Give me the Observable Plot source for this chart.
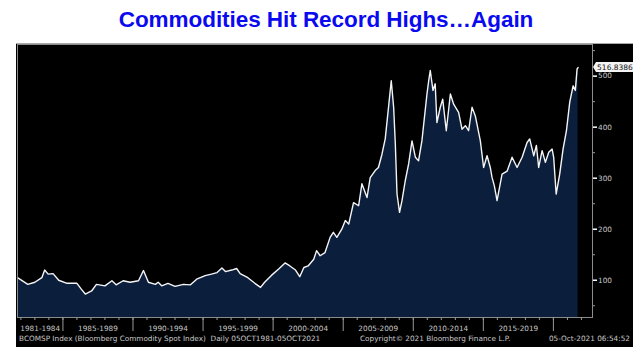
<!DOCTYPE html>
<html>
<head>
<meta charset="utf-8">
<script src="https://cdn.jsdelivr.net/npm/d3@7"></script>
<script src="https://cdn.jsdelivr.net/npm/@observablehq/plot@0.6"></script>
<style>
  html, body { margin: 0; padding: 0; background: #fff; }
  #wrap { position: relative; width: 640px; height: 357px; overflow: hidden; }
  #title { position: absolute; left: 12px; top: 8px; width: 628px; text-align: center;
    font: bold 22.5px "Liberation Sans", Arial, sans-serif; color: #0a0af0; line-height: 24px; letter-spacing: -0.05px; }
  #chart { position: absolute; left: 16px; top: 43px; width: 617px; height: 304px; background: #000; border-top: 1px solid #a8a8a8; box-sizing: border-box; }
  #chart svg { position: absolute; left: 0; top: -1px; }
  .foot { position: absolute; top: 290px; font: 7.3px "DejaVu Sans", sans-serif; color: #c8c8c8; white-space: pre; line-height: 9px; }
</style>
</head>
<body>
<div id="wrap">
  <div id="title">Commodities Hit Record Highs…Again</div>
  <div id="chart"></div>
</div>
<script>
// ---- data ----
const dates = [
  "1981-10-05","1982-07-01","1983-01-01","1983-07-01","1983-09-13","1983-12-13","1984-04-19","1984-09-13",
  "1985-04-19","1986-01-01","1986-04-19","1986-08-07","1987-01-19","1987-05-25","1988-01-01","1988-07-01",
  "1988-10-19","1989-04-19","1989-10-19","1990-05-25","1990-10-01","1991-02-07","1991-08-07","1991-10-19",
  "1992-01-19","1992-07-01","1993-01-01","1993-08-07","1994-02-07","1994-07-19","1995-02-25","1995-08-07",
  "1996-01-01","1996-05-07","1996-08-07","1997-01-19","1997-05-25","1997-08-25","1998-03-13","1998-09-13",
  "1999-02-07","1999-05-25","1999-11-25","2000-05-25","2000-11-07","2001-03-13","2001-08-07","2001-11-25",
  "2002-03-13","2002-07-01","2002-11-25","2003-02-07","2003-05-10","2003-09-13","2004-01-26","2004-04-19",
  "2004-07-19","2004-11-25","2005-02-25","2005-05-25","2005-09-27","2006-02-07","2006-05-03","2006-09-13",
  "2006-12-06","2007-04-15","2007-07-08","2007-10-08","2008-01-01","2008-03-27","2008-06-06","2008-08-07",
  "2008-09-20","2008-11-03","2009-01-08","2009-03-13","2009-06-06","2009-09-02","2009-11-29","2010-02-25",
  "2010-05-18","2010-08-14","2010-12-24","2011-02-07","2011-03-20","2011-05-29","2011-07-26","2011-09-09",
  "2011-12-06","2012-02-07","2012-05-10","2012-08-25","2012-11-18","2013-03-27","2013-06-24","2013-09-20",
  "2013-12-13","2014-03-13","2014-06-06","2014-10-15","2015-01-08","2015-04-08","2015-07-01","2015-08-14",
  "2015-10-15","2015-12-24","2016-05-03","2016-09-13","2017-01-19","2017-05-29","2017-10-08","2018-02-14",
  "2018-04-23","2018-08-07","2018-10-15","2018-12-13","2019-03-13","2019-06-06","2019-09-02","2019-11-29",
  "2020-01-08","2020-03-13","2020-06-13","2020-09-09","2020-12-06","2021-03-02","2021-05-29","2021-07-26",
  "2021-09-09","2021-10-05"
];
const values = [
  105,92,96,105,120,112,113,100,
  94,94,83,73,79,92,89,99,
  91,99,96,99,119,96,92,96,
  89,94,88,92,91,102,109,112,
  115,124,117,120,123,113,105,94,
  86,96,110,122,134,128,120,107,
  125,128,141,158,148,154,184,194,
  184,200,217,210,252,246,289,262,
  301,315,321,347,377,439,491,439,
  367,269,233,256,295,328,373,341,
  334,373,465,491,511,472,485,409,
  439,455,393,465,445,429,396,403,
  393,439,422,373,321,344,321,302,
  285,256,308,314,341,321,341,370,
  377,344,364,321,354,331,351,357,
  341,269,308,357,393,449,481,472,
  514,516.8386
];
const yTicks = [100, 200, 300, 400, 500];
const yMinorTicks = [50, 150, 250, 350, 450, 550];
const groupLabels = ["1981-1984","1985-1989","1990-1994","1995-1999","2000-2004","2005-2009","2010-2014","2015-2019"];
const groupStarts = ["1981-10-05","1985-01-01","1990-01-01","1995-01-01","2000-01-01","2005-01-01","2010-01-01","2015-01-01"];
const groupEnds   = ["1985-01-01","1990-01-01","1995-01-01","2000-01-01","2005-01-01","2010-01-01","2015-01-01","2020-01-01"];
const separatorYears = [1985, 1990, 1995, 2000, 2005, 2010, 2015, 2020];
const tickYears = d3.range(1982, 2023);
const lastLabelText = "516.8386";
const footLeft = "BCOMSP Index (Bloomberg Commodity Spot Index)  Daily 05OCT1981-05OCT2021";
const footMid = "Copyright© 2021 Bloomberg Finance L.P.";
const footRight = "05-Oct-2021 06:54:52";

// ---- build ----
const parse = d3.utcParse("%Y-%m-%d");
const data = dates.map((d, i) => ({date: parse(d), value: values[i]}));
const yDomain = [27, 562];
const xDomain = [parse("1981-10-05"), parse("2022-10-16")];
const centers = groupStarts.map((s, i) => new Date((+parse(s) + +parse(groupEnds[i])) / 2));
const centerLabel = new Map(centers.map((c, i) => [+c, groupLabels[i]]));
const last = data[data.length - 1];

const FONT = "DejaVu Sans, sans-serif";

function lastValueTag(index, scales, channels, dims) {
  const y = scales.y(last.value);
  const x0 = dims.width - dims.marginRight;
  const g = d3.create("svg:g");
  g.append("path")
    .attr("d", `M${x0 + 1},${y} L${x0 + 4},${y - 5} H${x0 + 41} V${y + 5} H${x0 + 4} Z`)
    .attr("fill", "#f4f4f4");
  g.append("text")
    .attr("x", x0 + 23).attr("y", y).attr("dy", "0.35em")
    .attr("text-anchor", "middle")
    .attr("font-family", FONT).attr("font-size", 7.5)
    .attr("fill", "#111")
    .text(lastLabelText);
  return g.node();
}

const chart = Plot.plot({
  width: 617,
  height: 304,
  marginLeft: 1,
  marginTop: 1,
  marginRight: 41,
  marginBottom: 30,
  style: {background: "transparent", color: "#c8c8c8", fontFamily: FONT, fontSize: "7.3px"},
  x: {type: "utc", domain: xDomain},
  y: {domain: yDomain},
  marks: [
    Plot.areaY(data, {x: "date", y1: () => yDomain[0], y2: "value", fill: "#0b1e3b", curve: "linear"}),
    Plot.lineY(data, {x: "date", y: "value", stroke: "#f4f4f4", strokeWidth: 1.4, curve: "linear"}),
    Plot.frame({stroke: "#8c8c8c"}),
    Plot.axisY({anchor: "right", ticks: yMinorTicks, tickSize: 2, fill: "none", stroke: "#9a9a9a", label: null}),
    Plot.axisY({anchor: "right", ticks: yTicks, tickSize: 4, tickPadding: 1.5, tickFormat: d => String(d),
      stroke: "#ffffff", strokeWidth: 1.5, fill: "#c8c8c8", fontSize: 7.3, label: null}),
    Plot.axisX({anchor: "bottom", ticks: tickYears.map(y => new Date(Date.UTC(y, 0, 1))), tickSize: 3,
      fill: "none", stroke: "#9a9a9a", label: null}),
    Plot.axisX({anchor: "bottom", ticks: separatorYears.map(y => new Date(Date.UTC(y, 0, 1))), tickSize: 14,
      fill: "none", stroke: "#9a9a9a", label: null}),
    Plot.axisX({anchor: "bottom", ticks: centers, tickSize: 0, tickPadding: 8,
      tickFormat: d => centerLabel.get(+d), fill: "#c8c8c8", fontSize: 7.3, label: null}),
    lastValueTag
  ]
});

const host = document.getElementById("chart");
host.appendChild(chart);
function foot(text, css) {
  const el = document.createElement("div");
  el.className = "foot";
  el.textContent = text;
  Object.assign(el.style, css);
  host.appendChild(el);
}
foot(footLeft, {left: "3px"});
foot(footMid, {left: "344px"});
foot(footRight, {right: "3px"});
</script>
</body>
</html>
